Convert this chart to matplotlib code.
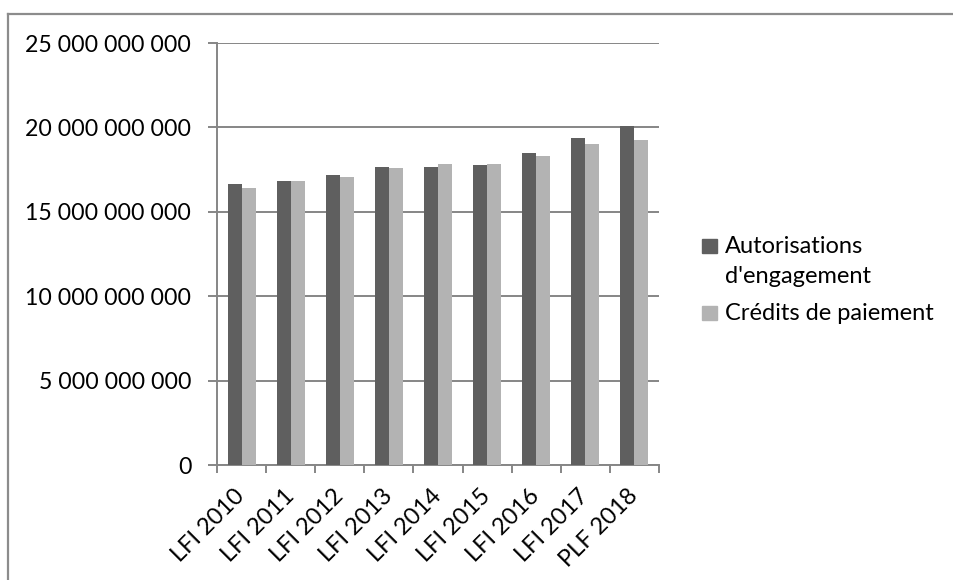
import matplotlib
matplotlib.use('Agg')
import numpy as np
from matplotlib import pyplot as plt
import matplotlib.patches as mpatches
import matplotlib.lines as mlines

categories = ['LFI 2010', 'LFI 2011', 'LFI 2012', 'LFI 2013', 'LFI 2014',
              'LFI 2015', 'LFI 2016', 'LFI 2017', 'PLF 2018']

# values in euros
autorisations = [16.65e9, 16.81e9, 17.16e9, 17.64e9, 17.67e9,
                 17.79e9, 18.47e9, 19.35e9, 20.10e9]
credits = [16.39e9, 16.81e9, 17.06e9, 17.62e9, 17.81e9,
           17.81e9, 18.31e9, 19.02e9, 19.25e9]

series_labels = ['Autorisations\nd\'engagement', 'Crédits de paiement']
yticks = [0, 5e9, 10e9, 15e9, 20e9, 25e9]

dark = '#5f5f5f'
light = '#b3b3b3'
grid_color = '#868686'

W, H = 954, 580

plt.rcParams['font.family'] = ['Lato', 'DejaVu Sans']

fig = plt.figure(figsize=(W / 100, H / 100), dpi=100)
ax = fig.add_axes([217 / W, 1 - 465 / H, (659 - 217) / W, (465 - 43) / H])

x = np.arange(len(categories))
width = 0.285
ax.bar(x - width / 2, autorisations, width, color=dark, zorder=3)
ax.bar(x + width / 2, credits, width, color=light, zorder=3)

ax.set_xlim(-0.5, len(categories) - 0.5)
ax.set_ylim(0, 25e9)
ax.set_yticks(yticks)
ax.set_yticklabels(['0' if v == 0 else f'{int(v):,}'.replace(',', ' ') for v in yticks])
ax.yaxis.grid(True, color=grid_color, linewidth=1.4, zorder=0)

# category ticks at boundaries, labels at centers
ax.set_xticks(np.arange(len(categories) + 1) - 0.5)
ax.set_xticklabels([])
ax.set_xticks(x, minor=True)
ax.set_xticklabels(categories, minor=True, rotation=45, ha='right', va='center',
                   rotation_mode='anchor', fontsize=17)
ax.tick_params(axis='x', which='minor', length=0, pad=20)
ax.tick_params(axis='x', which='major', length=6, width=1.4, color=grid_color)
ax.tick_params(axis='y', length=6.5, width=1.4, color=grid_color, labelsize=16.7, pad=12)

for side in ['top', 'right']:
    ax.spines[side].set_visible(False)
for side in ['left', 'bottom']:
    ax.spines[side].set_color(grid_color)
    ax.spines[side].set_linewidth(1.4)

# legend, drawn by hand so the swatch sits on the first line like in Excel
legend_rows = [(dark, series_labels[0], 253), (light, series_labels[1], 320)]
for color, label, baseline in legend_rows:
    fig.add_artist(mpatches.Rectangle((702 / W, 1 - baseline / H), 15 / W, 14 / H,
                                      color=color, transform=fig.transFigure))
    fig.text(725 / W, 1 - baseline / H, label.split('\n')[0], fontsize=17, va='baseline')
    if '\n' in label:
        fig.text(725 / W, 1 - (baseline + 30) / H, label.split('\n')[1], fontsize=17, va='baseline')

# outer chart border
fig.add_artist(mlines.Line2D([8.5 / W, 1], [1 - 14 / H, 1 - 14 / H], color='#8c8c8c',
                             linewidth=1.6, transform=fig.transFigure))
fig.add_artist(mlines.Line2D([8.5 / W, 8.5 / W], [0, 1 - 14 / H], color='#8c8c8c',
                             linewidth=1.6, transform=fig.transFigure))

fig.savefig('out.png', dpi=100)
